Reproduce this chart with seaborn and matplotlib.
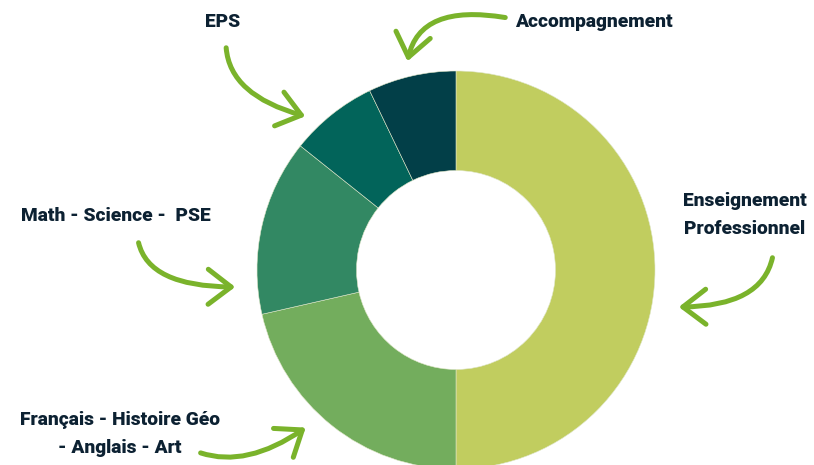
import matplotlib
matplotlib.use("Agg")
import matplotlib.pyplot as plt
import seaborn as sns
from matplotlib.patches import FancyArrowPatch

# ---- data ----
categories = ["Enseignement\nProfessionnel", "Français - Histoire Géo\n- Anglais - Art",
              "Math - Science -  PSE", "EPS", "Accompagnement"]
values = [14, 6, 4, 2, 2]
colors = ["#c1cd5f", "#73ad5d", "#328863", "#02645a", "#023f48"]

sns.set_theme(style="white")
plt.rcParams["font.family"] = ["Roboto", "DejaVu Sans"]

W, H = 814, 465
fig = plt.figure(figsize=(W / 100, H / 100), dpi=100)
fig.patch.set_facecolor("white")

cx, cy, r = 456, 270, 199
ax = fig.add_axes([(cx - r) / W, (H - cy - r) / H, 2 * r / W, 2 * r / H])
ax.pie(values, colors=colors, startangle=90, counterclock=False, radius=1,
       wedgeprops=dict(width=0.5, linewidth=0.4, edgecolor="#dfe6c8"))
ax.set_xlim(-1, 1)
ax.set_ylim(-1, 1)
ax.set_aspect("equal")
ax.axis("off")

def fp(x, y):
    return (x / W, 1 - y / H)

txt = "#0c2132"
fs = 13.8
label_pos = [(745, 215, "center"), (120, 434, "center"), (116, 216, "center"),
             (223, 22, "center"), (594, 22, "center")]
for lab, (x, y, ha) in zip(categories, label_pos):
    fig.text(*fp(x, y), lab, ha=ha, va="center", fontsize=fs, fontweight="black",
             color=txt, linespacing=1.65)

green = "#7ab32b"
arrows = [
    ((773, 255), (676, 307), "angle3,angleA=-100,angleB=180"),
    ((198, 452), (308, 426), "angle3,angleA=-20,angleB=35"),
    ((138, 240), (238, 287), "angle3,angleA=-80,angleB=0"),
    ((226, 45), (308, 117), "angle3,angleA=-88,angleB=-15"),
    ((508, 18), (407, 64), "angle3,angleA=170,angleB=-100"),
]
for a, b, cs in arrows:
    p = FancyArrowPatch(fp(*a), fp(*b), transform=fig.transFigure,
                        connectionstyle=cs,
                        arrowstyle="->,head_length=0.55,head_width=0.42",
                        mutation_scale=30, color=green, linewidth=3.6,
                        capstyle="round", joinstyle="round")
    fig.add_artist(p)

fig.savefig("out.png", dpi=100, facecolor="white")
